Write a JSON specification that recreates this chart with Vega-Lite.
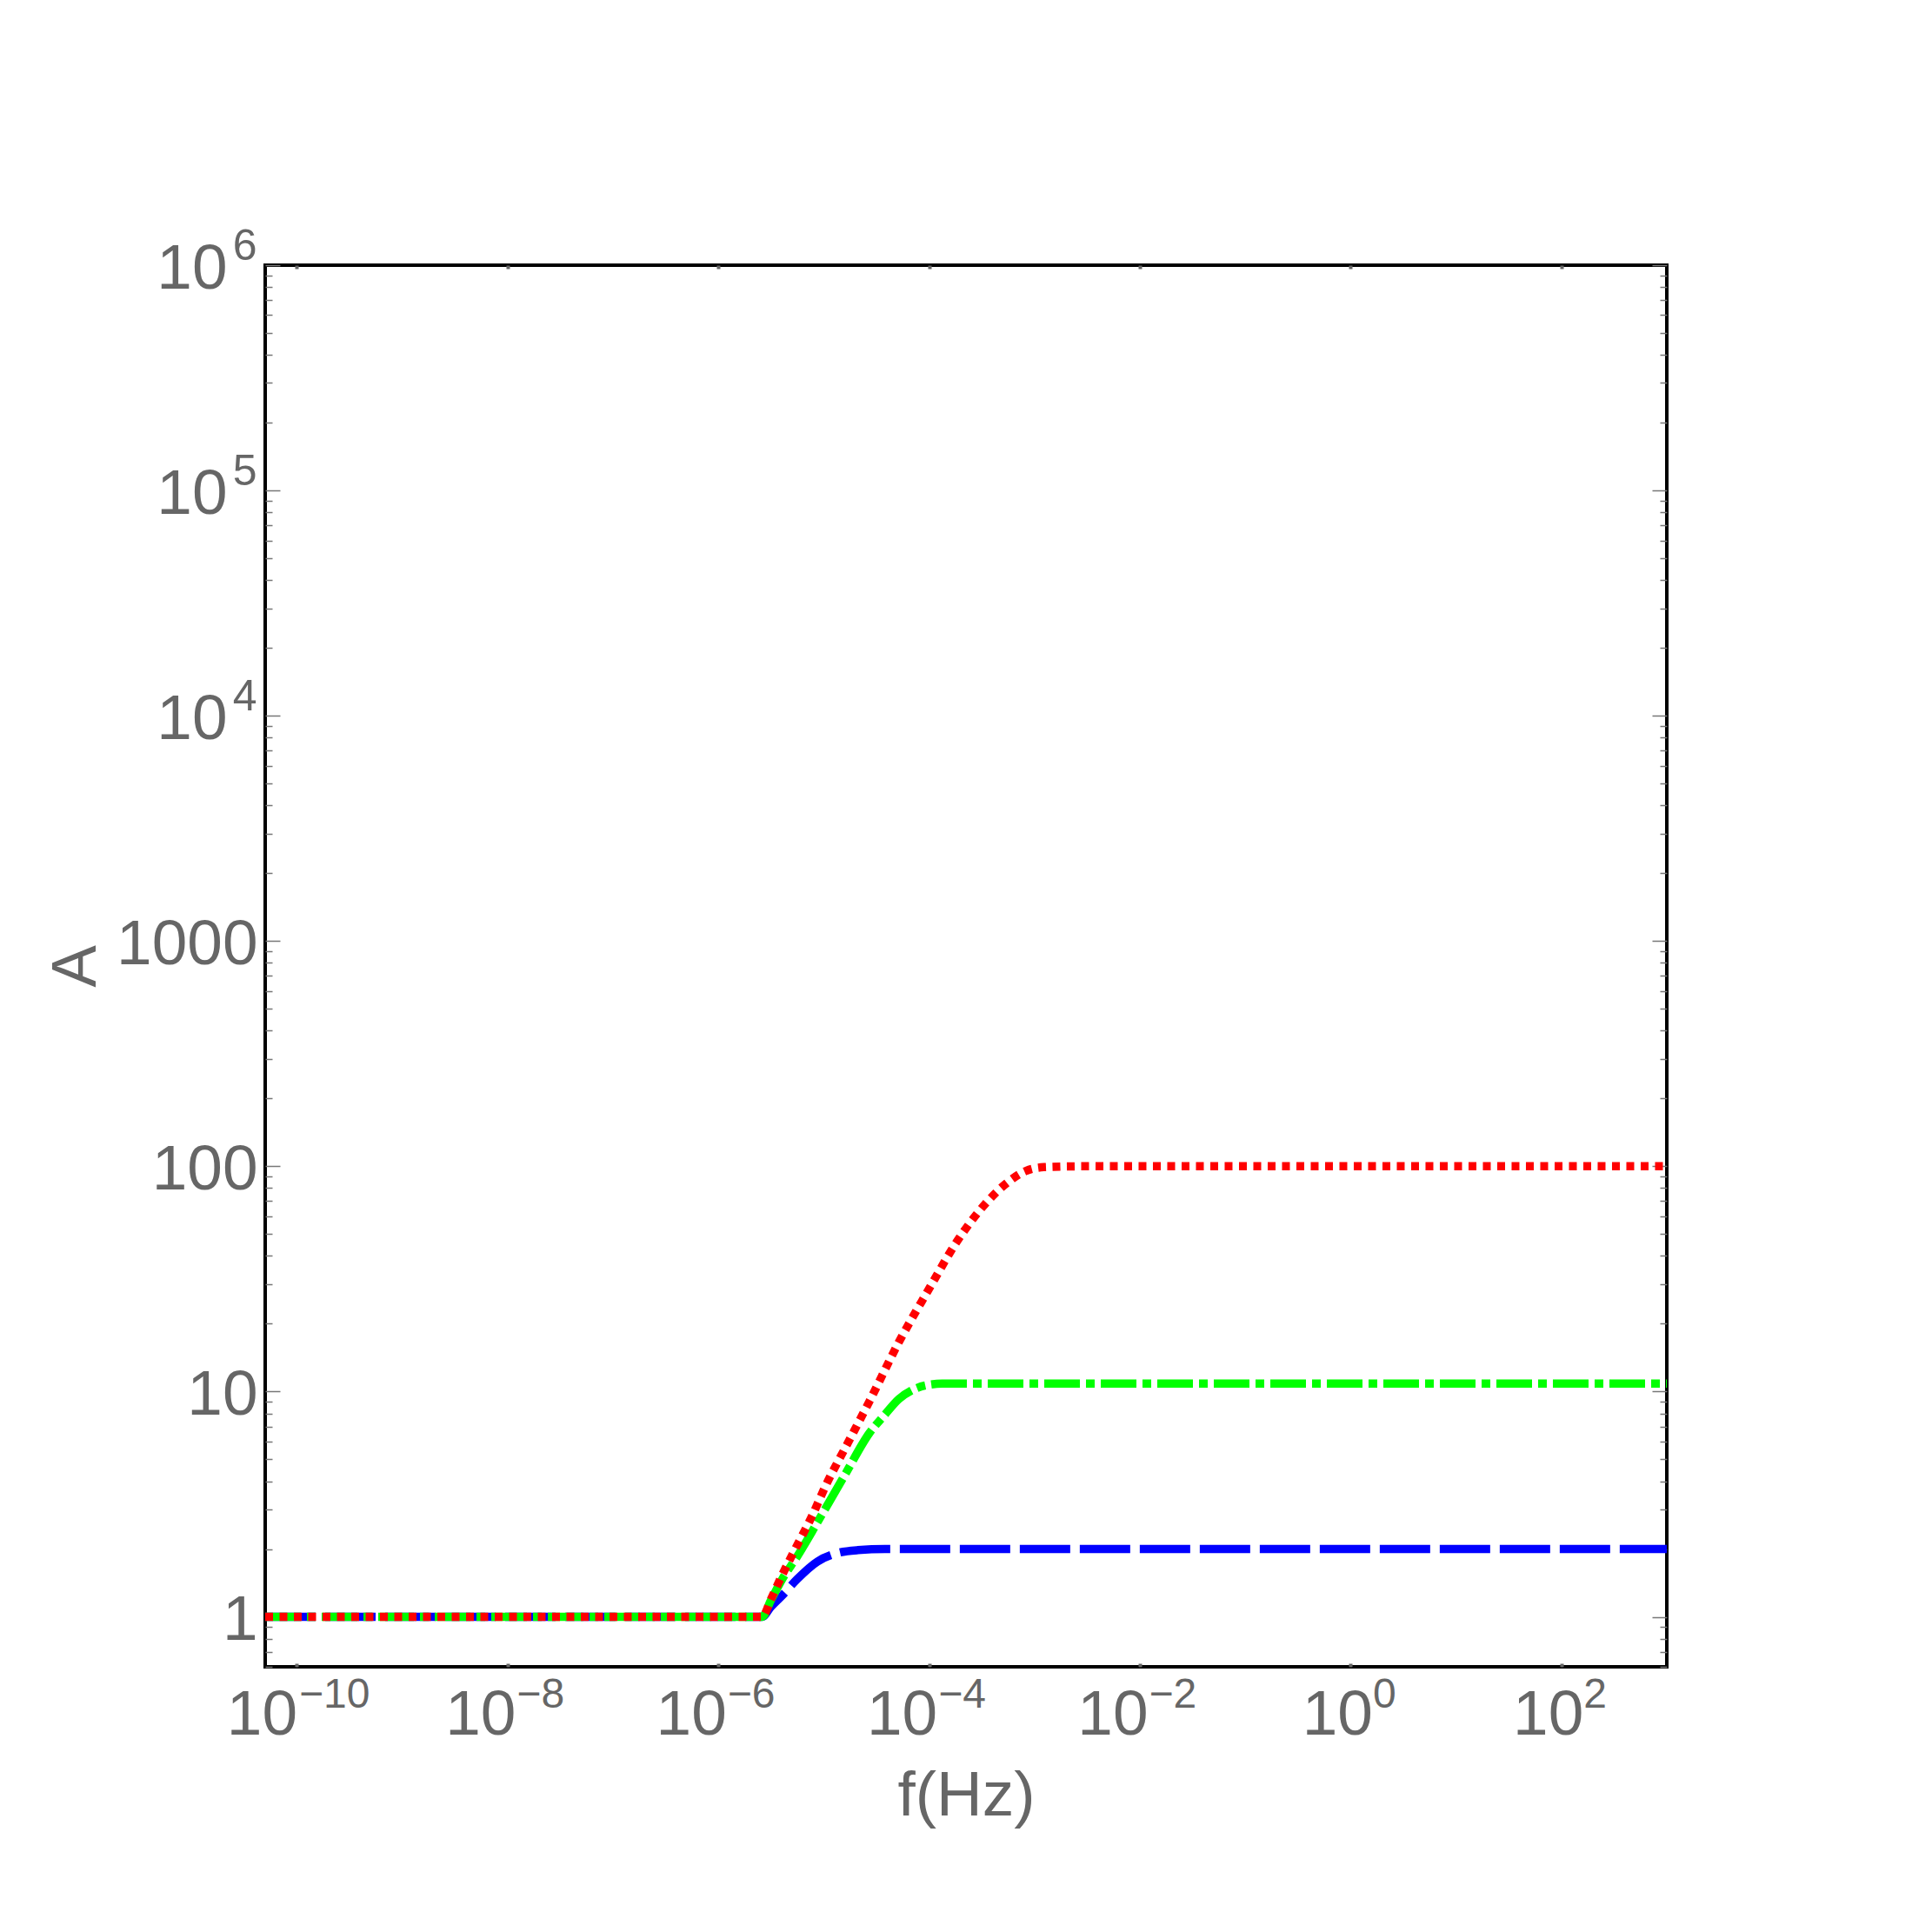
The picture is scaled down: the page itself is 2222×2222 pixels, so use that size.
{
  "$schema": "https://vega.github.io/schema/vega-lite/v6.json",
  "width": 1612,
  "height": 1612,
  "autosize": {"type": "none"},
  "padding": {"left": 305, "top": 305, "right": 305, "bottom": 305},
  "background": "white",
  "config": {
    "view": {"stroke": "black", "strokeWidth": 4},
    "axis": {
      "labelFont": "Liberation Sans",
      "titleFont": "Liberation Sans",
      "labelColor": "#666666",
      "titleColor": "#666666",
      "labelFontSize": 73,
      "titleFontSize": 73,
      "titleFontWeight": "normal",
      "grid": false,
      "domain": false,
      "ticks": false,
      "tickColor": "#777777",
      "labelFlush": false,
      "labelOverlap": false,
      "title": null
    }
  },
  "datasets": {
    "curves": [
      {"s": "blue", "f": 5e-11, "A": 1},
      {"s": "blue", "f": 2.6e-6, "A": 1},
      {"s": "blue", "f": 3.16e-6, "A": 1.11},
      {"s": "blue", "f": 4.07e-6, "A": 1.25},
      {"s": "blue", "f": 5.59e-6, "A": 1.47},
      {"s": "blue", "f": 8.71e-6, "A": 1.76},
      {"s": "blue", "f": 1.355e-5, "A": 1.92},
      {"s": "blue", "f": 2.11e-5, "A": 1.977},
      {"s": "blue", "f": 3.98e-5, "A": 2},
      {"s": "blue", "f": 1000, "A": 2},
      {"s": "green", "f": 5e-11, "A": 1},
      {"s": "green", "f": 2.6e-6, "A": 1},
      {"s": "green", "f": 3.16e-6, "A": 1.19},
      {"s": "green", "f": 4.07e-6, "A": 1.48},
      {"s": "green", "f": 5.62e-6, "A": 1.86},
      {"s": "green", "f": 8.71e-6, "A": 2.63},
      {"s": "green", "f": 1.585e-5, "A": 4.27},
      {"s": "green", "f": 2.72e-5, "A": 6.56},
      {"s": "green", "f": 3.74e-5, "A": 7.83},
      {"s": "green", "f": 5.13e-5, "A": 9.25},
      {"s": "green", "f": 7.05e-5, "A": 10.2},
      {"s": "green", "f": 9.77e-5, "A": 10.7},
      {"s": "green", "f": 1.33e-4, "A": 10.84},
      {"s": "green", "f": 3.16e-4, "A": 10.84},
      {"s": "green", "f": 1000, "A": 10.84},
      {"s": "red", "f": 5e-11, "A": 1},
      {"s": "red", "f": 2.6e-6, "A": 1},
      {"s": "red", "f": 3.16e-6, "A": 1.2},
      {"s": "red", "f": 4.07e-6, "A": 1.55},
      {"s": "red", "f": 5.62e-6, "A": 2.09},
      {"s": "red", "f": 7.59e-6, "A": 2.75},
      {"s": "red", "f": 1.05e-5, "A": 3.85},
      {"s": "red", "f": 1.7e-5, "A": 5.94},
      {"s": "red", "f": 2.72e-5, "A": 9.08},
      {"s": "red", "f": 5.13e-5, "A": 16.5},
      {"s": "red", "f": 9.77e-5, "A": 28.1},
      {"s": "red", "f": 1.82e-4, "A": 46.1},
      {"s": "red", "f": 3.42e-4, "A": 68.2},
      {"s": "red", "f": 5.37e-4, "A": 83.8},
      {"s": "red", "f": 8.32e-4, "A": 95.5},
      {"s": "red", "f": 1.23e-3, "A": 99.1},
      {"s": "red", "f": 3.16e-3, "A": 100},
      {"s": "red", "f": 1000, "A": 100}
    ]
  },
  "data": {"name": "curves"},
  "resolve": {
    "scale": {"x": "shared", "y": "shared"},
    "axis": {"x": "independent", "y": "independent"}
  },
  "layer": [
    {
      "transform": [{"filter": "datum.s == 'blue'"}],
      "mark": {"type": "line", "color": "#0000FF", "strokeWidth": 9.5, "strokeDash": [58, 11], "strokeCap": "butt", "interpolate": "monotone"},
      "encoding": {
        "x": {
          "field": "f", "type": "quantitative",
          "scale": {"type": "log", "domain": [5e-11, 1000], "nice": false},
          "axis": {"orient": "bottom", "values": [1e-10], "labelExpr": "'10'", "labelAlign": "right", "labelBaseline": "top", "labelOffset": 0, "labelPadding": 19, "title": "f(Hz)", "titlePadding": 20}
        },
        "y": {
          "field": "A", "type": "quantitative",
          "scale": {"type": "log", "domain": [0.6, 1000000], "nice": false},
          "axis": {"orient": "left", "values": [1, 10, 100, 1000], "labelExpr": "format(datum.value, 'd')", "labelAlign": "right", "labelBaseline": "middle", "labelOffset": 4, "labelPadding": 9, "title": "A", "titlePadding": 9}
        }
      }
    },
    {
      "transform": [{"filter": "datum.s == 'green'"}],
      "mark": {"type": "line", "color": "#00FF00", "strokeWidth": 9.5, "strokeDash": [41, 7, 10, 7], "strokeCap": "butt", "interpolate": "monotone"},
      "encoding": {
        "x": {
          "field": "f", "type": "quantitative",
          "scale": {"type": "log", "domain": [5e-11, 1000], "nice": false},
          "axis": {"orient": "bottom", "values": [1e-8, 1e-6, 1e-4, 1e-2], "labelExpr": "'10'", "labelAlign": "right", "labelBaseline": "top", "labelOffset": 9, "labelPadding": 19}
        },
        "y": {
          "field": "A", "type": "quantitative",
          "scale": {"type": "log", "domain": [0.6, 1000000], "nice": false},
          "axis": {"orient": "left", "values": [10000, 100000, 1000000], "labelExpr": "'10'", "labelAlign": "right", "labelBaseline": "middle", "labelOffset": 4, "labelPadding": 44}
        }
      }
    },
    {
      "transform": [{"filter": "datum.s == 'red'"}],
      "mark": {"type": "line", "color": "#FF0000", "strokeWidth": 9.5, "strokeDash": [9, 7.5], "strokeCap": "butt", "interpolate": "monotone"},
      "encoding": {
        "x": {
          "field": "f", "type": "quantitative",
          "scale": {"type": "log", "domain": [5e-11, 1000], "nice": false},
          "axis": {"orient": "bottom", "values": [1, 100], "labelExpr": "'10'", "labelAlign": "right", "labelBaseline": "top", "labelOffset": 25, "labelPadding": 19}
        },
        "y": {
          "field": "A", "type": "quantitative",
          "scale": {"type": "log", "domain": [0.6, 1000000], "nice": false},
          "axis": {"orient": "left", "values": [10000, 100000, 1000000], "labelExpr": "format(round(log(datum.value)/LN10), 'd')", "labelFontSize": 50, "labelAlign": "right", "labelBaseline": "middle", "labelOffset": -22, "labelPadding": 10}
        }
      }
    },
    {
      "mark": {"type": "point", "opacity": 0},
      "encoding": {
        "x": {
          "field": "f", "type": "quantitative",
          "scale": {"type": "log", "domain": [5e-11, 1000], "nice": false},
          "axis": {"orient": "bottom", "values": [1e-10], "labelExpr": "'−10'", "labelFontSize": 48, "labelAlign": "left", "labelBaseline": "top", "labelOffset": 2, "labelPadding": 8}
        },
        "y": {
          "field": "A", "type": "quantitative",
          "scale": {"type": "log", "domain": [0.6, 1000000], "nice": false},
          "axis": {"orient": "left", "values": [1, 10, 100, 1000, 10000, 100000, 1000000], "labels": false, "ticks": true, "tickSize": -17, "tickWidth": 1.5}
        }
      }
    },
    {
      "mark": {"type": "point", "opacity": 0},
      "encoding": {
        "x": {
          "field": "f", "type": "quantitative",
          "scale": {"type": "log", "domain": [5e-11, 1000], "nice": false},
          "axis": {"orient": "bottom", "values": [1e-8, 1e-6, 1e-4, 1e-2], "labelExpr": "'−' + format(-round(log(datum.value)/LN10), 'd')", "labelFontSize": 48, "labelAlign": "left", "labelBaseline": "top", "labelOffset": 10, "labelPadding": 8}
        },
        "y": {
          "field": "A", "type": "quantitative",
          "scale": {"type": "log", "domain": [0.6, 1000000], "nice": false},
          "axis": {"orient": "left", "values": [0.6, 0.7, 0.8, 0.9, 2, 3, 4, 5, 6, 7, 8, 9, 20, 30, 40, 50, 60, 70, 80, 90, 200, 300, 400, 500, 600, 700, 800, 900, 2000, 3000, 4000, 5000, 6000, 7000, 8000, 9000, 20000, 30000, 40000, 50000, 60000, 70000, 80000, 90000, 200000, 300000, 400000, 500000, 600000, 700000, 800000, 900000], "labels": false, "ticks": true, "tickSize": -8, "tickWidth": 1.5}
        }
      }
    },
    {
      "mark": {"type": "point", "opacity": 0},
      "encoding": {
        "x": {
          "field": "f", "type": "quantitative",
          "scale": {"type": "log", "domain": [5e-11, 1000], "nice": false},
          "axis": {"orient": "bottom", "values": [1, 100], "labelExpr": "format(round(log(datum.value)/LN10), 'd')", "labelFontSize": 48, "labelAlign": "left", "labelBaseline": "top", "labelOffset": 25, "labelPadding": 8}
        },
        "y": {
          "field": "A", "type": "quantitative",
          "scale": {"type": "log", "domain": [0.6, 1000000], "nice": false},
          "axis": {"orient": "right", "values": [1, 10, 100, 1000, 10000, 100000, 1000000], "labels": false, "ticks": true, "tickSize": -17, "tickWidth": 1.5}
        }
      }
    },
    {
      "mark": {"type": "point", "opacity": 0},
      "encoding": {
        "x": {
          "field": "f", "type": "quantitative",
          "scale": {"type": "log", "domain": [5e-11, 1000], "nice": false},
          "axis": {"orient": "bottom", "values": [1e-10, 1e-8, 1e-6, 1e-4, 1e-2, 1, 100], "labels": false, "ticks": true, "tickSize": -4, "tickWidth": 4, "tickColor": "#666666"}
        },
        "y": {
          "field": "A", "type": "quantitative",
          "scale": {"type": "log", "domain": [0.6, 1000000], "nice": false},
          "axis": {"orient": "right", "values": [0.6, 0.7, 0.8, 0.9, 2, 3, 4, 5, 6, 7, 8, 9, 20, 30, 40, 50, 60, 70, 80, 90, 200, 300, 400, 500, 600, 700, 800, 900, 2000, 3000, 4000, 5000, 6000, 7000, 8000, 9000, 20000, 30000, 40000, 50000, 60000, 70000, 80000, 90000, 200000, 300000, 400000, 500000, 600000, 700000, 800000, 900000], "labels": false, "ticks": true, "tickSize": -8, "tickWidth": 1.5}
        }
      }
    },
    {
      "mark": {"type": "point", "opacity": 0},
      "encoding": {
        "x": {
          "field": "f", "type": "quantitative",
          "scale": {"type": "log", "domain": [5e-11, 1000], "nice": false},
          "axis": {"orient": "top", "values": [1e-10, 1e-8, 1e-6, 1e-4, 1e-2, 1, 100], "labels": false, "ticks": true, "tickSize": -4, "tickWidth": 4, "tickColor": "#666666"}
        },
        "y": {
          "field": "A", "type": "quantitative",
          "scale": {"type": "log", "domain": [0.6, 1000000], "nice": false},
          "axis": null
        }
      }
    }
  ]
}
